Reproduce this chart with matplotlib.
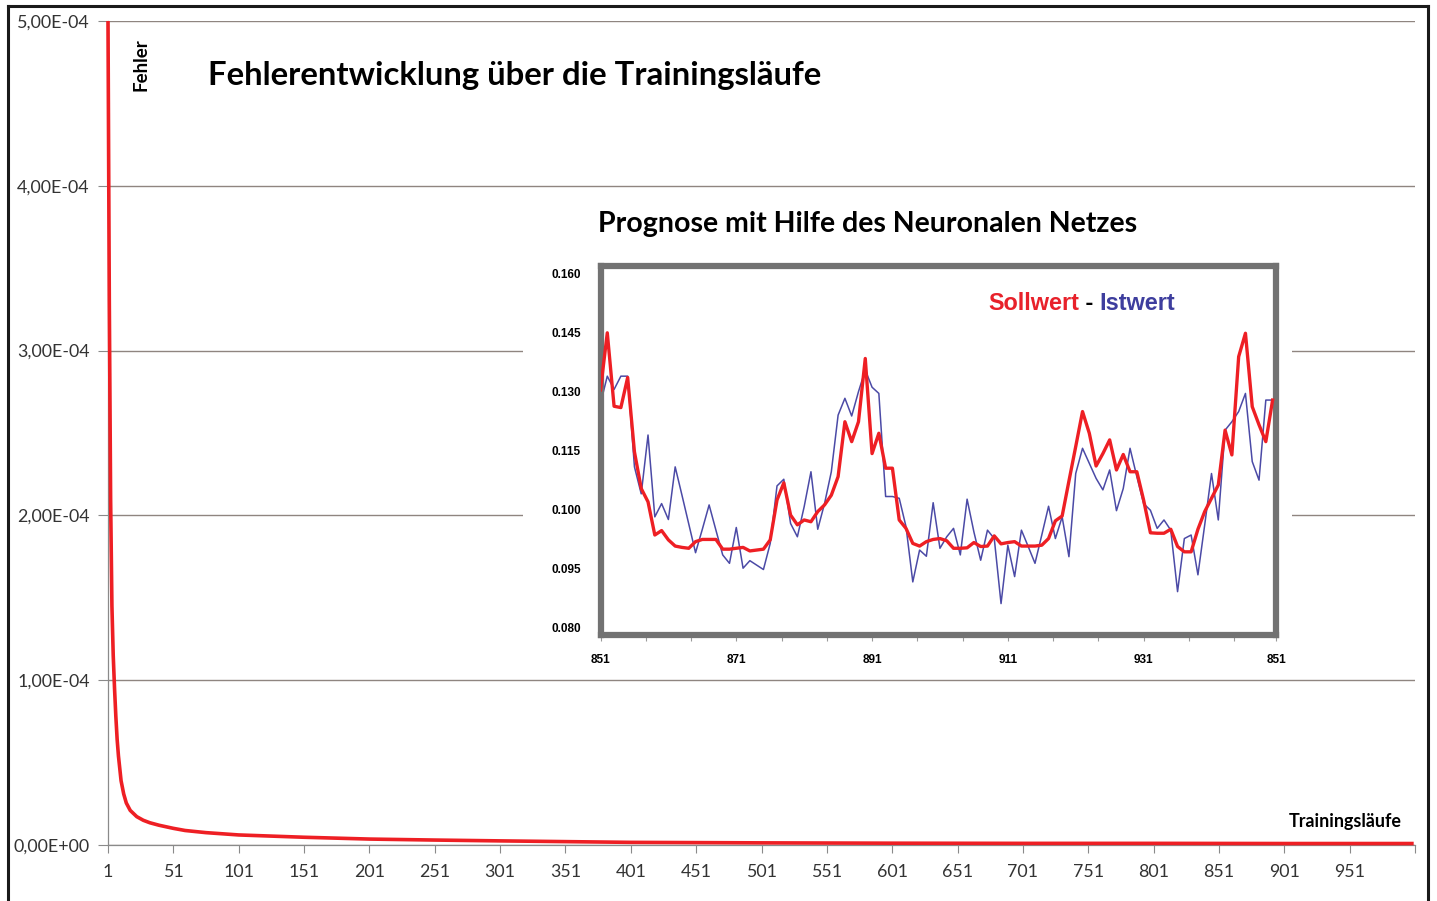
import matplotlib
matplotlib.use("Agg")
import matplotlib.pyplot as plt
from matplotlib.lines import Line2D
from matplotlib.patches import Rectangle
import numpy as np

W, H = 1437, 901
SANS = "Lato"
ARIAL = "Liberation Sans"
RED = "#ee1f24"
BLUE = "#4b4aa6"
GRID = "#8f8580"

# training error over the runs (sampled points of the curve)
runs = [1, 2, 3, 4, 5, 6, 7, 8, 9, 11, 13, 15, 18, 23, 28, 33, 40, 51, 60, 76, 101,
        151, 201, 251, 301, 401, 501, 601, 701, 801, 901, 1000]
fehler = [5.0e-4, 3.3e-4, 2.1e-4, 1.45e-4, 1.15e-4, 9.5e-5, 7.8e-5, 6.4e-5, 5.4e-5,
          3.9e-5, 3.1e-5, 2.55e-5, 2.1e-5, 1.72e-5, 1.5e-5, 1.35e-5, 1.2e-5, 1.01e-5,
          8.8e-6, 7.5e-6, 6.1e-6, 4.7e-6, 3.6e-6, 3.0e-6, 2.5e-6, 1.6e-6, 1.3e-6,
          1.1e-6, 1.0e-6, 1.0e-6, 0.9e-6, 0.9e-6]
x_ticks = list(range(1, 1002, 50))
x_labels = [str(t) for t in range(1, 952, 50)] + [""]
y_ticks = [0, 1e-4, 2e-4, 3e-4, 4e-4, 5e-4]
y_labels = ["0,00E+00", "1,00E-04", "2,00E-04", "3,00E-04", "4,00E-04", "5,00E-04"]

# forecast inset: target (Sollwert) and network output (Istwert), 100 steps
sollwert = [
    0.1336, 0.1465, 0.1299, 0.1296, 0.1364, 0.1196, 0.1113, 0.1083, 0.1008, 0.1018,
    0.0997, 0.0983, 0.0980, 0.0978, 0.0993, 0.0998, 0.0998, 0.0998, 0.0976, 0.0976,
    0.0978, 0.0980, 0.0972, 0.0974, 0.0976, 0.0997, 0.1087, 0.1126, 0.1053, 0.1031,
    0.1042, 0.1038, 0.1061, 0.1076, 0.1098, 0.1140, 0.1264, 0.1219, 0.1264, 0.1407,
    0.1192, 0.1238, 0.1159, 0.1159, 0.1042, 0.1023, 0.0989, 0.0983, 0.0993, 0.0998,
    0.1000, 0.0995, 0.0978, 0.0978, 0.0979, 0.0991, 0.0982, 0.0983, 0.1006, 0.0988,
    0.0991, 0.0993, 0.0983, 0.0983, 0.0983, 0.0985, 0.1000, 0.1040, 0.1051, 0.1130,
    0.1208, 0.1287, 0.1238, 0.1164, 0.1192, 0.1223, 0.1155, 0.1190, 0.1151, 0.1151,
    0.1087, 0.1013, 0.1012, 0.1012, 0.1021, 0.0982, 0.0970, 0.0970, 0.1021, 0.1061,
    0.1091, 0.1121, 0.1245, 0.1189, 0.1411, 0.1464, 0.1298, 0.1257, 0.1219, 0.1313,
]
istwert = [
    0.1305, 0.1367, 0.1337, 0.1367, 0.1367, 0.1162, 0.1101, 0.1234, 0.1049, 0.1079,
    0.1043, 0.1162, 0.1098, 0.1033, 0.0968, 0.1021, 0.1076, 0.1019, 0.0963, 0.0944,
    0.1025, 0.0933, 0.0950, 0.0940, 0.0930, 0.0989, 0.1119, 0.1134, 0.1034, 0.1004,
    0.1072, 0.1151, 0.1021, 0.1079, 0.1151, 0.1279, 0.1317, 0.1277, 0.1332, 0.1381,
    0.1342, 0.1328, 0.1095, 0.1095, 0.1091, 0.1027, 0.0902, 0.0974, 0.0960, 0.1081,
    0.0978, 0.1004, 0.1023, 0.0963, 0.1089, 0.1015, 0.0951, 0.1019, 0.1000, 0.0853,
    0.0985, 0.0914, 0.1019, 0.0982, 0.0944, 0.1008, 0.1073, 0.1000, 0.1049, 0.0959,
    0.1147, 0.1204, 0.1170, 0.1136, 0.1110, 0.1155, 0.1063, 0.1113, 0.1204, 0.1140,
    0.1079, 0.1064, 0.1023, 0.1042, 0.1019, 0.0880, 0.1000, 0.1008, 0.0918, 0.1031,
    0.1147, 0.1042, 0.1245, 0.1264, 0.1287, 0.1328, 0.1174, 0.1132, 0.1313, 0.1313,
]
inset_x_labels = ["851", "871", "891", "911", "931", "851"]
inset_y_labels = ["0.080", "0.095", "0.100", "0.115", "0.130", "0.145", "0.160"]


def fig_box(left, top, right, bottom):
    """Pixel box -> [x0, y0, w, h] in figure fraction."""
    return [left / W, 1 - bottom / H, (right - left) / W, (bottom - top) / H]


fig = plt.figure(figsize=(W / 100, H / 100), dpi=100)
fig.patch.set_facecolor("white")

# ---- main chart: error development ----
ax = fig.add_axes(fig_box(108, 21, 1415, 845))
ax.plot(runs, fehler, color=RED, lw=2.6, solid_capstyle="butt", clip_on=False, zorder=3)
ax.set_xlim(1, 1001)
ax.set_ylim(0, 5e-4)
ax.set_xticks(x_ticks)
ax.set_xticklabels(x_labels, fontfamily=SANS, fontsize=12.8, color="#333333")
ax.set_yticks(y_ticks)
ax.set_yticklabels(y_labels, fontfamily=SANS, fontsize=12.9, color="#333333")
ax.tick_params(axis="x", direction="out", length=6, width=0.8, color="#8a8a8a", pad=7.5)
ax.tick_params(axis="y", direction="out", length=7, width=0.8, color="#8a8a8a", pad=6)
ax.grid(axis="y", color=GRID, lw=1.0)
ax.set_axisbelow(True)
for side in ("top", "right"):
    ax.spines[side].set_visible(False)
for side in ("left", "bottom"):
    ax.spines[side].set_color("#8a8a8a")
    ax.spines[side].set_linewidth(0.9)

fig.text(208 / W, 1 - 75 / H, "Fehlerentwicklung über die Trainingsläufe",
         fontfamily=SANS, fontweight="bold", fontsize=23.7, va="center", ha="left")
fig.text(141 / W, 1 - 65 / H, "Fehler", rotation=90, fontfamily=SANS,
         fontweight="bold", fontsize=13.5, va="center", ha="center")
fig.text(1402 / W, 1 - 822 / H, "Trainingsläufe", fontfamily=SANS,
         fontweight="bold", fontsize=12.9, va="center", ha="right")

# white panel behind the inset (hides the grid lines)
fig.patches.append(Rectangle((523 / W, 1 - 672 / H), (1292 - 523) / W, (672 - 192) / H,
                             transform=fig.transFigure, facecolor="white",
                             edgecolor="none", zorder=1))

# ---- inset: forecast with the neural network ----
ax_in = fig.add_axes(fig_box(600.5, 266, 1276, 635), zorder=2)
steps = np.arange(len(sollwert))
ax_in.plot(steps, istwert, color=BLUE, lw=1.1, zorder=2)
ax_in.plot(steps, sollwert, color=RED, lw=2.4, zorder=3)
ax_in.set_xlim(0, 99.5)
ax_in.set_ylim(0.0782, 0.1616)
ax_in.set_xticks([0, 20, 40, 60, 80, 99.5])
ax_in.set_xticklabels(inset_x_labels, fontfamily=ARIAL, fontweight="bold", fontsize=8.5)
ax_in.set_xticks(np.arange(0, 100, 20 / 3), minor=True)
ax_in.set_yticks(np.linspace(0.080, 0.160, 7))
ax_in.set_yticklabels(inset_y_labels, fontfamily=ARIAL, fontweight="bold", fontsize=8.5)
ax_in.tick_params(axis="x", which="both", direction="out", length=4, width=0.8,
                  color="#9a9a9a", pad=9.5)
ax_in.tick_params(axis="y", length=0, pad=14)
for sp in ax_in.spines.values():
    sp.set_color("#727272")
    sp.set_linewidth(4.5)

fig.text(598 / W, 1 - 224 / H, "Prognose mit Hilfe des Neuronalen Netzes",
         fontfamily=SANS, fontweight="bold", fontsize=20.5, va="center", ha="left")

t1 = fig.text(988 / W, 1 - 303 / H, "Sollwert", color="#e8212a", fontfamily=ARIAL,
              fontweight="bold", fontsize=16.9, va="center", ha="left", zorder=4)
t2 = ax_in.annotate(" - ", xycoords=t1, xy=(1, 0), va="bottom", ha="left",
                    color="black", fontfamily=ARIAL, fontweight="bold", fontsize=16.9)
ax_in.annotate("Istwert", xycoords=t2, xy=(1, 0), va="bottom", ha="left",
               color="#3e3e9e", fontfamily=ARIAL, fontweight="bold", fontsize=16.9)

# outer frame (open at the bottom)
for xs, ys in (([8, 8], [H, 6]), ([8, 1428], [6, 6]), ([1428, 1428], [6, H])):
    fig.add_artist(Line2D([x / W for x in xs], [1 - y / H for y in ys],
                          color="#1a1a1a", lw=2.2, transform=fig.transFigure))

fig.savefig("out.png", dpi=100)
